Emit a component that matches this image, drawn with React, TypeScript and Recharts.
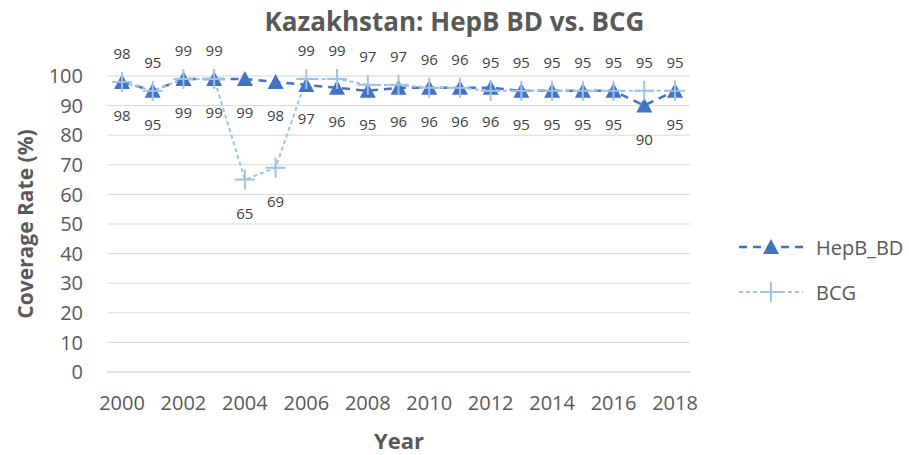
import React from 'react';
import { LineChart, Line, XAxis, YAxis, CartesianGrid, Legend, LabelList, Label } from 'recharts';

const years = ['2000','2001','2002','2003','2004','2005','2006','2007','2008','2009','2010','2011','2012','2013','2014','2015','2016','2017','2018'];
const hepbBD = [98,95,99,99,99,98,97,96,95,96,96,96,96,95,95,95,95,90,95];
const bcg = [98,95,99,99,65,69,99,99,97,97,96,96,95,95,95,95,95,95,95];
const yTicks = [0,10,20,30,40,50,60,70,80,90,100];

const data = years.map((y, i) => ({ year: y, HepB_BD: hepbBD[i], BCG: bcg[i] }));

const FONT = '"Open Sans", sans-serif';
const HEPB = '#4472C4';
const BCGC = '#9DC3E6';
const TXT = '#595959';
const LBL = '#404040';

const Tri = (props: any) => {
  const { cx, cy } = props;
  if (cx == null || cy == null) return null;
  return <polygon points={`${cx},${cy - 8} ${cx + 8},${cy + 7} ${cx - 8},${cy + 7}`} fill={HEPB} stroke="none" />;
};

const Plus = (props: any) => {
  const { cx, cy } = props;
  if (cx == null || cy == null) return null;
  return (
    <g stroke={BCGC} strokeWidth={2}>
      <line x1={cx - 10} y1={cy} x2={cx + 10} y2={cy} />
      <line x1={cx} y1={cy - 10} x2={cx} y2={cy + 10} />
    </g>
  );
};

const getXY = (p: any) => {
  const x = p.x ?? p.viewBox?.x;
  const y = p.y ?? p.viewBox?.y;
  return { x, y };
};

const belowLabel = (p: any) => {
  const { x, y } = getXY(p);
  if (x == null || y == null) return null;
  return (
    <text x={x} y={y + 33} textAnchor="middle" dominantBaseline="central" fontSize={15} fill={LBL} fontFamily={FONT}>
      {p.value}
    </text>
  );
};

const bcgLabel = (p: any) => {
  const { x, y } = getXY(p);
  if (x == null || y == null) return null;
  const below = Number(p.value) < 90;
  return (
    <text x={x} y={below ? y + 33 : y - 29} textAnchor="middle" dominantBaseline="central" fontSize={15} fill={LBL} fontFamily={FONT}>
      {p.value}
    </text>
  );
};

const LegendContent = () => (
  <div style={{ fontFamily: FONT, fontSize: 20, color: TXT }}>
    <div style={{ display: 'flex', alignItems: 'center', height: 30 }}>
      <svg width={64} height={30}>
        <line x1={0} y1={15} x2={64} y2={15} stroke={HEPB} strokeWidth={2.5} strokeDasharray="8 6" />
        <polygon points="32,7 40,22 24,22" fill={HEPB} />
      </svg>
      <span style={{ marginLeft: 13 }}>HepB_BD</span>
    </div>
    <div style={{ display: 'flex', alignItems: 'center', height: 30, marginTop: 15 }}>
      <svg width={64} height={30}>
        <line x1={0} y1={15} x2={64} y2={15} stroke={BCGC} strokeWidth={2} strokeDasharray="4 3" />
        <line x1={22} y1={15} x2={42} y2={15} stroke={BCGC} strokeWidth={2} />
        <line x1={32} y1={5} x2={32} y2={25} stroke={BCGC} strokeWidth={2} />
      </svg>
      <span style={{ marginLeft: 13 }}>BCG</span>
    </div>
  </div>
);

const YTitle = () => {
  const cy = 224;
  return (
    <text x={25} y={cy} transform={`rotate(-90, 25, ${cy})`} textAnchor="middle" dominantBaseline="central" fontSize={21} fontWeight="bold" fill={TXT} fontFamily={FONT}>
      Coverage Rate (%)
    </text>
  );
};

const XTitle = () => (
  <text x={399} y={440} textAnchor="middle" dominantBaseline="central" fontSize={22} fontWeight="bold" fill={TXT} fontFamily={FONT}>
    Year
  </text>
);

export default function App() {
  return (
    <div style={{ position: 'absolute', left: 0, top: 0, width: 909, height: 455, background: '#fff', fontFamily: FONT }}>
      <div style={{ position: 'absolute', left: 0, top: 8, width: 909, textAlign: 'center', fontSize: 26, fontWeight: 'bold', color: TXT, lineHeight: '27px' }}>
        Kazakhstan: HepB BD vs. BCG
      </div>
      <LineChart width={909} height={455} data={data} margin={{ top: 76, right: 219, bottom: 0, left: 0 }}>
        <CartesianGrid vertical={false} stroke="#D9D9D9" strokeWidth={1} />
        <XAxis dataKey="year" interval={1} height={83} tickLine={false} tickSize={0} tickMargin={24}
          padding={{ left: 15, right: 15 }}
          axisLine={{ stroke: '#D9D9D9' }} tick={{ fontSize: 20, fill: TXT, fontFamily: FONT }}>
          <Label content={XTitle} />
        </XAxis>
        <YAxis domain={[0, 100]} ticks={yTicks} width={107} axisLine={false} tickLine={false} tickSize={0} tickMargin={24}
          tick={{ fontSize: 20, fill: TXT, fontFamily: FONT }}>
          <Label content={YTitle} />
        </YAxis>
        <Legend layout="horizontal" align="center" verticalAlign="middle" content={LegendContent}
          wrapperStyle={{ left: 739, top: 232, width: 170 }} />
        <Line dataKey="HepB_BD" stroke={HEPB} strokeWidth={2.5} strokeDasharray="8 6" dot={<Tri />} activeDot={false} isAnimationActive={false}>
          <LabelList dataKey="HepB_BD" content={belowLabel} />
        </Line>
        <Line dataKey="BCG" stroke={BCGC} strokeWidth={2} strokeDasharray="4 3" dot={<Plus />} activeDot={false} isAnimationActive={false}>
          <LabelList dataKey="BCG" content={bcgLabel} />
        </Line>
      </LineChart>
    </div>
  );
}
